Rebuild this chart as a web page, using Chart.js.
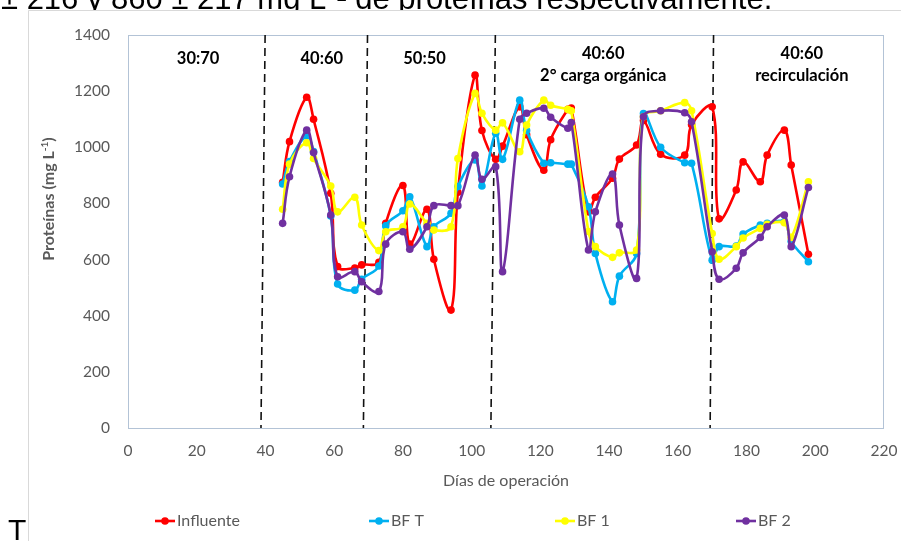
<!DOCTYPE html>
<html><head><meta charset="utf-8">
<script src="https://cdn.jsdelivr.net/npm/chart.js@4"></script>
<style>html,body{margin:0;padding:0;background:#fff;overflow:hidden}</style>
</head><body>
<canvas id="c" width="901" height="541"></canvas>
<script>
// ---- data ----
const days      = [45,47,52,54,59,61,66,68,73,75,80,82,87,89,94,96,101,103,107,109,114,116,121,123,128,129,134,136,141,143,148,150,155,162,164,170,172,177,179,184,186,191,193,198];
const influente = [875,1020,1178,1100,836,575,570,581,590,729,864,655,779,601,420,840,1257,1060,957,1004,1144,1045,918,1027,1135,1140,770,822,890,958,1008,1095,975,972,1080,1144,745,848,948,877,972,1061,937,619];
const bfT       = [869,949,1040,985,755,513,491,530,577,720,774,824,646,717,765,860,955,862,1050,957,1168,1060,943,945,940,940,788,622,450,541,622,1120,1000,945,943,598,646,648,691,723,729,735,665,592];
const bf1       = [779,940,1016,960,862,770,822,723,632,699,717,798,729,705,717,960,1192,1121,1061,1087,984,1079,1168,1150,1135,1130,700,646,608,624,634,1109,1130,1159,1130,693,601,646,677,711,726,731,679,877];
const bf2       = [729,895,1061,981,759,539,557,521,486,655,699,637,717,792,792,792,972,886,931,557,1100,1121,1139,1107,1068,1088,634,770,905,723,533,1109,1130,1123,1091,628,530,569,624,679,717,759,646,857];
const seriesNames = ['Influente','BF T','BF 1','BF 2'];
const seriesColors = ['#FF0000','#00B0F0','#FFFF00','#7030A0'];
const xTicks = [0,20,40,60,80,100,120,140,160,180,200,220];
const yTicks = [0,200,400,600,800,1000,1200,1400];
const dividerTop    = [39.9, 69.7, 106.9, 170.4];
const dividerBottom = [38.7, 68.5, 105.6, 169.4];
const phaseLabels  = [['30:70'],['40:60'],['50:50'],['40:60','2° carga orgánica'],['40:60','recirculación']];
const phaseCenters = [20.4, 56.4, 86.3, 138.3, 196.1];
const headerText = '± 216 y 860 ± 217 mg L⁻¹ de proteínas respectivamente.';

const allSeries = [influente, bfT, bf1, bf2];
const datasets = allSeries.map((vals, i) => ({
  label: seriesNames[i],
  data: days.map((d, k) => ({x: d, y: vals[k]})),
  borderColor: seriesColors[i],
  backgroundColor: seriesColors[i],
  borderWidth: 2.6,
  pointRadius: 3.8,
  pointBorderWidth: 0,
  pointHoverRadius: 4,
  tension: 0.38,
  order: 4 - i
}));

const decor = {
  id: 'decor',
  beforeDraw(chart) {
    const ctx = chart.ctx;
    ctx.save();
    ctx.fillStyle = '#fff';
    ctx.fillRect(0, 0, chart.width, chart.height);
    // cut-off header text
    ctx.save();
    ctx.beginPath(); ctx.rect(0, 0, 901, 10.3); ctx.clip();
    ctx.fillStyle = '#000';
    ctx.font = '31px "Liberation Sans", Arial, sans-serif';
    ctx.textBaseline = 'alphabetic';
    ctx.fillText(headerText, 1, 8.6);
    ctx.restore();
    // outer frame
    ctx.strokeStyle = '#d9d9d9';
    ctx.lineWidth = 1;
    ctx.beginPath();
    ctx.moveTo(28.5, 541); ctx.lineTo(28.5, 10.5); ctx.lineTo(901, 10.5);
    ctx.stroke();
    // stray "T"
    ctx.fillStyle = '#000';
    ctx.font = '30px "Liberation Sans", Arial, sans-serif';
    ctx.fillText('T', 8, 540);
    ctx.restore();
  },
  beforeDatasetsDraw(chart) {
    const {ctx, chartArea: a, scales: {x, y}} = chart;
    ctx.save();
    ctx.strokeStyle = '#b3c3d6';
    ctx.lineWidth = 1;
    ctx.strokeRect(a.left + 0.5, a.top + 0.5, a.right - a.left - 1, a.bottom - a.top);
    ctx.strokeStyle = '#111';
    ctx.lineWidth = 1.6;
    ctx.setLineDash([8, 5]);
    dividerTop.forEach((t, i) => {
      ctx.beginPath();
      ctx.moveTo(x.getPixelForValue(t), y.getPixelForValue(1400));
      ctx.lineTo(x.getPixelForValue(dividerBottom[i]), y.getPixelForValue(0));
      ctx.stroke();
    });
    ctx.setLineDash([]);
    ctx.fillStyle = '#000';
    ctx.font = 'bold 16.5px Lato, "Open Sans", sans-serif';
    ctx.textAlign = 'center';
    ctx.textBaseline = 'middle';
    phaseLabels.forEach((lines, i) => {
      const cx = x.getPixelForValue(phaseCenters[i]);
      if (lines.length === 1) {
        ctx.fillText(lines[0], cx, a.top + 24);
      } else {
        ctx.fillText(lines[0], cx, a.top + 19);
        ctx.fillText(lines[1], cx, a.top + 41);
      }
    });
    ctx.restore();
  },
  afterDraw(chart) {
    const ctx = chart.ctx;
    ctx.save();
    ctx.translate(54, 199);
    ctx.rotate(-Math.PI / 2);
    ctx.fillStyle = '#595959';
    ctx.textBaseline = 'alphabetic';
    const main = 'Proteínas (mg L', sup = '-1', end = ')';
    const fMain = 'bold 16px Lato, "Open Sans", sans-serif';
    const fSup = 'bold 10px Lato, "Open Sans", sans-serif';
    ctx.font = fMain; const w1 = ctx.measureText(main).width; const w3 = ctx.measureText(end).width;
    ctx.font = fSup; const w2 = ctx.measureText(sup).width;
    let sx = -(w1 + w2 + w3) / 2;
    ctx.font = fMain; ctx.fillText(main, sx, 0); sx += w1;
    ctx.font = fSup; ctx.fillText(sup, sx, -6); sx += w2;
    ctx.font = fMain; ctx.fillText(end, sx, 0);
    ctx.restore();
    ctx.save();
    const legX = [155, 369, 555, 736];
    const ly = 521;
    ctx.font = '16px Lato, "Open Sans", sans-serif';
    ctx.textBaseline = 'middle';
    seriesNames.forEach((n, i) => {
      ctx.strokeStyle = seriesColors[i];
      ctx.fillStyle = seriesColors[i];
      ctx.lineWidth = 2.6;
      ctx.beginPath(); ctx.moveTo(legX[i], ly); ctx.lineTo(legX[i] + 20, ly); ctx.stroke();
      ctx.beginPath(); ctx.arc(legX[i] + 10, ly, 3.8, 0, Math.PI * 2); ctx.fill();
      ctx.fillStyle = '#595959';
      ctx.fillText(n, legX[i] + 22, ly);
    });
    ctx.restore();
  }
};

new Chart(document.getElementById('c'), {
  type: 'line',
  data: {datasets},
  plugins: [decor],
  options: {
    responsive: false,
    animation: false,
    events: [],
    layout: {padding: {left: 0, top: 35, right: 17, bottom: 0}},
    plugins: {legend: {display: false}, tooltip: {enabled: false}},
    scales: {
      x: {
        type: 'linear', min: 0, max: 220,
        afterBuildTicks: s => { s.ticks = xTicks.map(v => ({value: v})); },
        afterFit: s => { s.height = 113; s.paddingLeft = 0; s.paddingRight = 0; },
        grid: {display: false, drawTicks: false},
        border: {display: false},
        ticks: {padding: 14, color: '#595959', font: {family: 'Lato', size: 15.5}, callback: v => String(v)},
        title: {display: true, text: 'Días de operación', color: '#595959',
                font: {family: 'Lato', size: 16}, padding: {top: 0, bottom: 51}}
      },
      y: {
        min: 0, max: 1400,
        afterBuildTicks: s => { s.ticks = yTicks.map(v => ({value: v})); },
        afterFit: s => { s.width = 128; s.paddingTop = 0; s.paddingBottom = 0; },
        grid: {display: false, drawTicks: false},
        border: {display: false},
        ticks: {padding: 18, color: '#595959', font: {family: 'Lato', size: 15.5}, callback: v => String(v)}
      }
    }
  }
});
</script>
</body></html>
